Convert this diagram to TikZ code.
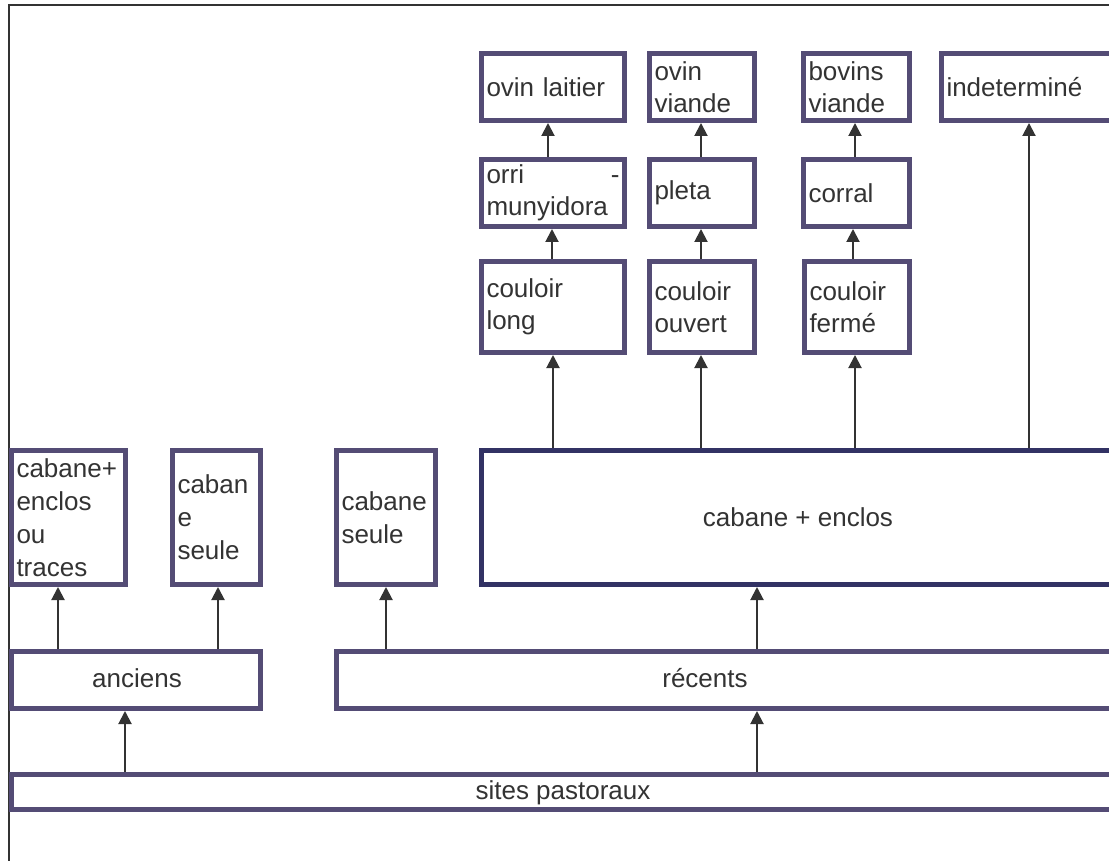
\documentclass[tikz,border=0pt]{standalone}
\usepackage{fontspec}
\setmainfont{Liberation Sans}
\usetikzlibrary{arrows.meta}
\definecolor{boxc}{RGB}{84,76,117}
\definecolor{boxd}{RGB}{50,50,100}
\definecolor{ink}{RGB}{51,51,51}
\tikzset{
  box/.style={draw=boxc, line width=5pt, fill=white, inner sep=0pt, align=left, text=ink, font=\fontsize{26}{32}\selectfont},
  lowtxt/.style={font=\fontsize{26}{33}\selectfont},
  lbl/.style={text=ink, font=\fontsize{26}{32}\selectfont, inner sep=0pt, anchor=base},
  arr/.style={draw=ink, line width=2pt, -{Triangle[length=13pt,width=13pt]}},
  frameline/.style={draw=ink, line width=2pt}
}
\newcommand\bx[7][]{%
  \pgfmathsetmacro\bxcx{(#3+#5)/2}%
  \pgfmathsetmacro\bxcy{(#4+#6)/2}%
  \pgfmathsetmacro\bxww{#5-#3-5}%
  \pgfmathsetmacro\bxhh{#6-#4-5}%
  \pgfmathsetmacro\bxtw{\bxww-10}%
  \node[box,minimum width=\bxww pt,minimum height=\bxhh pt,text width=\bxtw pt,#1] (#2) at (\bxcx,\bxcy) {#7};}
\begin{document}
\begin{tikzpicture}[x=1pt,y=-1pt]
\useasboundingbox (0,0) rectangle (1109,861);
\clip (0,0) rectangle (1109,861);
\fill[white] (0,0) rectangle (1109,861);
\draw[frameline] (9,870) -- (9,5) -- (1120,5);

\bx{ovl}{479}{51}{627}{123}{ovin laitier}
\bx{ovv}{647}{51}{757}{123}{ovin\\viande}
\bx{bov}{801}{51}{912}{123}{bovins\\viande}
\bx{ind}{939}{51}{1115}{123}{indeterminé}
\bx{orri}{479}{157}{627}{229}{orri\hspace{0pt plus 1filll}-\\munyidora}
\bx{pleta}{647}{157}{757}{229}{pleta}
\bx{corral}{801}{157}{912}{229}{corral}
\bx{cl}{479}{259}{627}{355}{couloir\\long}
\bx{co}{647}{259}{757}{355}{couloir\\ouvert}
\bx{cf}{802}{259}{912}{355}{couloir\\fermé}
\bx[draw=boxd]{ce}{479}{448}{1115}{587}{}
\bx[lowtxt]{c1}{9}{448}{128}{587}{cabane+\\enclos\\ou\\traces}
\bx[lowtxt]{c2}{170}{448}{263}{587}{caban\\e\\seule}
\bx[lowtxt]{c3}{334}{448}{438}{587}{cabane\\seule}
\bx{anc}{9}{649}{263}{711}{}
\bx{rec}{334}{649}{1115}{711}{}
\bx{sites}{9}{772}{1115}{812}{}

\node[lbl] (t-ce) at (798,526) {cabane + enclos};
\node[lbl] (t-anc) at (137,687) {anciens};
\node[lbl] (t-rec) at (705,687) {récents};
\node[lbl] (t-sites) at (563,799) {sites pastoraux};

\draw[arr] (orri.north -| 548,0) -- (ovl.south -| 548,0);
\draw[arr] (pleta.north -| 701,0) -- (ovv.south -| 701,0);
\draw[arr] (corral.north -| 855,0) -- (bov.south -| 855,0);
\draw[arr] (cl.north -| 552,0) -- (orri.south -| 552,0);
\draw[arr] (co.north -| 701,0) -- (pleta.south -| 701,0);
\draw[arr] (cf.north -| 853,0) -- (corral.south -| 853,0);
\draw[arr] (ce.north -| 553,0) -- (cl.south -| 553,0);
\draw[arr] (ce.north -| 701,0) -- (co.south -| 701,0);
\draw[arr] (ce.north -| 855,0) -- (cf.south -| 855,0);
\draw[arr] (ce.north -| 1029,0) -- (ind.south -| 1029,0);
\draw[arr] (anc.north -| 58,0) -- (c1.south -| 58,0);
\draw[arr] (anc.north -| 218,0) -- (c2.south -| 218,0);
\draw[arr] (rec.north -| 386,0) -- (c3.south -| 386,0);
\draw[arr] (rec.north -| 757,0) -- (ce.south -| 757,0);
\draw[arr] (sites.north -| 125,0) -- (anc.south -| 125,0);
\draw[arr] (sites.north -| 757,0) -- (rec.south -| 757,0);
\end{tikzpicture}
\end{document}
